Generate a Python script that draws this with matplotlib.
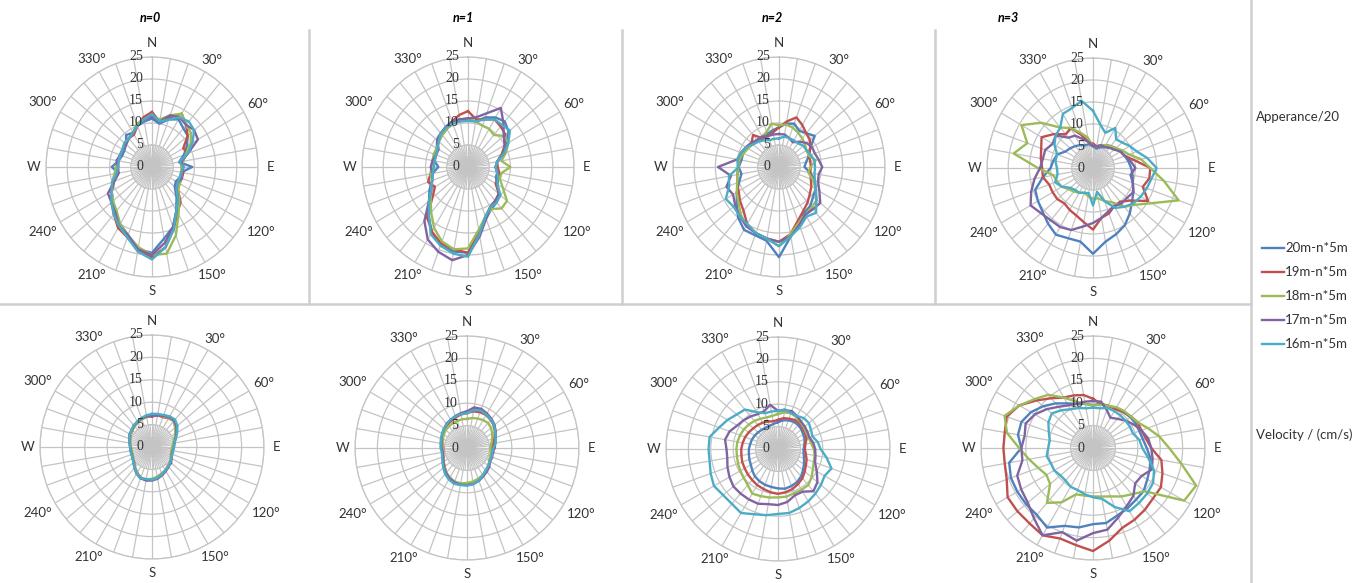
import numpy as np
import matplotlib
matplotlib.use("Agg")
import matplotlib.pyplot as plt
from matplotlib.lines import Line2D

W, H = 1371, 583

# ---------------- data ----------------
angles_deg = list(range(0, 360, 10))
series_names = ["20m-n*5m", "19m-n*5m", "18m-n*5m", "17m-n*5m", "16m-n*5m"]
series_colors = ["#4F81BD", "#C0504D", "#9BBB59", "#8064A2", "#4BACC6"]
panel_titles = ["n=0", "n=1", "n=2", "n=3"]
row_labels = ["Apperance/20", "Velocity / (cm/s)"]
dir_labels = {0: "N", 30: "30°", 60: "60°", 90: "E", 120: "120°", 150: "150°",
              180: "S", 210: "210°", 240: "240°", 270: "W", 300: "300°", 330: "330°"}
r_ticks = [0, 5, 10, 15, 20, 25]

# Appearance/20, n=0
app_n0_20 = [11, 10, 11.5, 12.5, 11.5, 11, 9.5, 8, 6.5, 9.5, 7, 7, 6.5, 7, 9, 11.5, 14.5, 16.5, 19.5, 19, 16.5, 15, 14, 12, 11, 9.5, 8, 9.5, 8, 7.5, 7.5, 8, 9.5, 9, 10, 10.5]
app_n0_19 = [12.5, 10.5, 12, 14, 12.5, 11, 8.5, 9, 7, 7, 7.5, 7.5, 7.5, 8, 10.5, 12, 15, 18.5, 20.5, 19, 17, 16, 14, 12.5, 11, 9.5, 8.5, 8, 8, 8, 8, 8, 8.5, 8.5, 10, 11.5]
app_n0_18 = [11.5, 11, 12.5, 14, 12.5, 12, 10.5, 8.5, 7.5, 7, 7, 7.5, 7.5, 8, 10, 12.5, 16.5, 20, 20, 18.5, 16.5, 15, 13, 12, 11, 10, 9, 8.5, 8, 8, 8, 8.5, 8.5, 9, 10.5, 11]
app_n0_17 = [11.5, 10.5, 12.5, 13, 12.5, 13, 12.5, 9, 7, 7.5, 7, 7.5, 7, 7.5, 9.5, 11.5, 14.5, 17.5, 20, 19, 16.5, 15.5, 13.5, 12.5, 12, 9.5, 8, 8, 8.5, 8, 8, 8, 8.5, 9, 10, 11]
app_n0_16 = [12, 10.5, 11.5, 13, 13.5, 13, 11, 9, 6.5, 7.5, 7, 7, 7, 7.5, 9.5, 11.5, 15, 18.5, 21, 19.5, 17, 15.5, 14, 12.5, 11, 10, 8.5, 8, 8, 8, 8, 8.5, 8.5, 9, 10, 11]

# Appearance/20, n=1
app_n1_20 = [11, 10.5, 12, 13, 13.5, 12.5, 10.5, 8.5, 7, 6.5, 7, 7, 8, 9.5, 10.5, 11, 12.5, 15, 19.5, 19.5, 19, 17, 14.5, 12, 10.5, 9, 8.5, 7, 8, 8.5, 8.5, 9.5, 10, 10.5, 11, 11]
app_n1_19 = [12.7, 11, 11.5, 12.5, 12, 11.5, 10, 8.5, 7, 7, 7.5, 7.5, 7.5, 9.5, 10, 10.5, 12, 15, 19.5, 19, 18.5, 17, 15, 11, 9, 10, 9, 8.5, 8, 8, 8.5, 9, 9.5, 10, 11, 12]
app_n1_18 = [11, 10.5, 10, 10, 9.5, 11, 11, 9.5, 8, 10, 8, 8, 9.5, 12, 12.3, 11, 12, 14.5, 18.5, 19, 18, 16, 13.5, 11.5, 10, 9, 9, 8.5, 8.5, 8.6, 8.5, 9, 9.5, 10, 10.5, 11]
app_n1_17 = [11, 11.5, 13, 15.5, 13, 11, 10, 9, 7, 6.5, 7, 7.5, 8, 9.5, 10, 10.5, 12.5, 16, 20, 21.5, 20.5, 19, 16, 12, 10, 9, 8.5, 8.8, 8.5, 8, 8, 9.5, 10, 10.5, 11, 11]
app_n1_16 = [10.5, 10.5, 11.5, 12.5, 12.5, 12.9, 11, 9, 7, 6.5, 7, 7.5, 8, 10, 10.5, 10.5, 12, 15.5, 20.4, 20, 19, 17.6, 14.3, 12, 10, 9, 8.5, 8, 8, 8, 8.3, 9, 10, 10.3, 10.5, 10.5]

# Appearance/20, n=2
app_n2_20 = [9, 10, 10.5, 9.5, 10, 11, 8.5, 7.5, 6.5, 6, 7.5, 9, 10, 10.5, 11.5, 12, 14, 16, 20.5, 17, 16.5, 16.5, 15, 13, 11.5, 10, 9, 9.5, 9, 9, 8.5, 8.5, 8, 7.5, 8, 8.5]
app_n2_19 = [9, 10.5, 12, 11, 10, 9.5, 8.5, 7.5, 7.5, 7.5, 7.5, 8, 8.8, 9.5, 10.5, 11.5, 13, 15.5, 17, 16.5, 16, 15, 13, 12, 11, 10.5, 10, 9.5, 9.5, 9.5, 9, 8.5, 9.5, 7.5, 7.5, 8]
app_n2_18 = [9.5, 9.8, 9.5, 9, 8.5, 8, 7.5, 7.5, 8.8, 7.5, 7, 8.5, 10, 11.6, 12, 12.5, 13.5, 15.5, 18, 16.5, 16, 15.5, 14, 12.5, 11.5, 10.5, 10, 9.5, 9.5, 9, 8.5, 8, 8, 8, 8.5, 10]
app_n2_17 = [7.5, 7.5, 7, 6.5, 7.5, 8.5, 9, 9, 9.5, 10.2, 9.5, 9.8, 11, 12.7, 12.5, 12.5, 14, 16, 17, 16.5, 16, 15.5, 14.5, 13.5, 12.5, 13.2, 11.5, 14.4, 10, 9.5, 9, 8.5, 8, 8, 7.5, 7.5]
app_n2_16 = [6.5, 7, 7, 7, 7, 7.5, 7.5, 8, 8.5, 8.5, 8.5, 9, 10, 11.5, 13.6, 13, 14.5, 16, 18, 16.5, 16, 15, 14.5, 14, 14.5, 12.5, 12, 9.5, 10, 9.5, 9, 8, 7.5, 7, 6.5, 6.5]

# Appearance/20, n=3
app_n3_20 = [5, 4.5, 5, 5.5, 6, 7, 7.5, 8, 8.5, 9, 9.5, 10, 11, 12, 13.5, 15, 16, 17, 19.5, 17, 17, 17.5, 16.5, 15.5, 15, 14.5, 12, 10, 9.5, 9, 7.5, 7, 6.5, 6, 5.5, 5.5]
app_n3_19 = [5.5, 5, 5.5, 6, 6.5, 7, 7.5, 8, 10, 13.5, 13.5, 12.5, 15, 11.5, 10, 10, 11, 11.5, 14, 12.5, 11.5, 11, 10.5, 11, 11, 11, 12, 12, 12.5, 13, 14, 12, 10, 10.5, 8, 6]
app_n3_18 = [5, 5, 5.5, 6, 6.5, 7, 8, 9, 11.5, 13.5, 17, 21.5, 16, 13, 11.5, 9, 8, 7, 7, 6.5, 6, 6.5, 7, 7.5, 8.5, 9, 9.5, 13, 19, 16.5, 19.5, 16, 12, 10.5, 8.5, 7]
app_n3_17 = [5, 5, 5.5, 5.5, 6, 6.5, 7.5, 8, 9, 10, 9, 10, 11, 10.5, 10.5, 10, 10.5, 11.5, 12.5, 13.5, 15, 15.5, 15.5, 16, 17, 15.5, 14, 12.5, 12, 12, 11, 11.5, 9, 8.5, 7, 6]
app_n3_16 = [13, 10, 8.5, 10.5, 8.5, 9, 10, 11, 13, 15, 14, 13.5, 13, 12.5, 11.5, 10.5, 8, 5.5, 8.5, 5.8, 6, 6.5, 6.5, 7, 8.5, 9.5, 8.5, 8.5, 9, 9, 10.5, 11.5, 12, 14.2, 14.5, 15.5]

# Velocity (cm/s), n=0
vel_n0_20 = [7.2, 7.3, 7.5, 7.8, 7.8, 7, 6.2, 5.5, 5, 4.8, 4.6, 4.7, 5, 5.3, 5.7, 6, 6.5, 7, 7.3, 7.4, 7.5, 6.8, 6, 5.3, 5, 4.8, 4.8, 4.8, 5, 5.3, 5.6, 5.8, 6.2, 6.5, 6.8, 7]
vel_n0_19 = [6.8, 7.2, 7.1, 7.4, 7.6, 6.8, 6.3, 5.4, 4.9, 4.6, 4.7, 4.5, 4.9, 5.6, 5.5, 6.1, 6.3, 6.8, 7.2, 7.5, 7.3, 6.6, 5.9, 5.2, 4.9, 4.7, 4.7, 4.7, 5, 5.2, 5.5, 5.7, 6.4, 6.3, 6.6, 6.9]
vel_n0_18 = [7, 7.1, 7.3, 7.5, 7.5, 6.8, 6, 5.3, 4.8, 4.5, 4.4, 4.6, 4.8, 5.2, 5.6, 5.9, 6.4, 6.8, 7.1, 7.3, 7.3, 6.7, 5.9, 5.3, 4.8, 4.6, 4.6, 4.7, 4.9, 5.2, 5.5, 5.7, 6, 6.3, 6.6, 6.8]
vel_n0_17 = [7, 7.1, 7.4, 7.7, 7.7, 7.1, 6.3, 5.6, 5.1, 4.9, 4.7, 4.7, 5.1, 5.4, 5.8, 6.2, 6.7, 7.2, 7.5, 7.6, 7.4, 6.9, 6.1, 5.4, 5, 4.8, 4.8, 4.9, 5.1, 5.4, 5.8, 5.9, 6.2, 6.5, 6.8, 6.9]
vel_n0_16 = [7.4, 7.5, 7.6, 7.9, 8, 7.4, 6.5, 5.7, 5.1, 4.9, 4.8, 4.8, 5, 5.3, 5.7, 6, 6.5, 7, 7.3, 7.3, 7.4, 6.8, 6.1, 5.4, 5, 4.9, 4.9, 4.9, 5.1, 5.4, 5.7, 6, 6.3, 6.6, 6.9, 7.2]

# Velocity (cm/s), n=1
vel_n1_20 = [8, 8.8, 9, 8.8, 8.4, 8, 7.3, 6.7, 6.3, 5.8, 5.6, 5.7, 5.8, 6.2, 6.5, 7, 7.5, 8, 8.2, 8.3, 8.4, 8, 7.5, 6.8, 6.2, 5.8, 5.6, 5.5, 5.7, 6, 6.3, 6.6, 7, 7.2, 7.5, 7.8]
vel_n1_19 = [7.8, 8.3, 8.5, 8.5, 8.2, 7.8, 7.2, 6.5, 6, 5.3, 6, 5.5, 5.8, 6.3, 6.7, 7.2, 7.5, 8, 8, 8.2, 8, 7.8, 7.2, 6.5, 6, 5.6, 5.4, 5.3, 5.5, 5.8, 6.2, 6.5, 6.8, 7, 7.3, 7.6]
vel_n1_18 = [6.5, 6.8, 7, 7.2, 7.3, 7, 6.5, 6, 5.5, 5.2, 5.4, 5.5, 5.8, 6.2, 6.6, 7, 7.3, 7.6, 7.8, 8, 8, 7.6, 7.2, 6.6, 6.1, 5.7, 5.5, 5.4, 5.5, 5.7, 6, 6.2, 6.3, 6.4, 6.4, 6.5]
vel_n1_17 = [8.2, 9.2, 9.3, 8.9, 8.5, 8, 7.4, 6.8, 6.4, 6.2, 5.8, 6, 6, 6.5, 6.9, 7.3, 7.8, 8.2, 8.3, 8.3, 8.2, 7.8, 7.3, 6.7, 6.1, 5.7, 5.5, 5.7, 5.8, 6.1, 6.4, 6.7, 7.1, 7.3, 7.6, 7.9]
vel_n1_16 = [7.8, 8.6, 8.9, 8.6, 8.3, 7.9, 7.3, 6.8, 6.5, 5.9, 5.7, 5.8, 5.9, 6.2, 6.6, 7.1, 7.7, 8.2, 8.4, 8.4, 8.5, 8.1, 7.6, 6.9, 6.3, 5.9, 5.7, 5.9, 6, 6.2, 6.4, 6.7, 7, 7.3, 7.5, 7.7]

# Velocity (cm/s), n=2
vel_n2_20 = [6, 6.5, 6.8, 7, 7, 6.8, 6.5, 6.3, 6, 5.7, 5.8, 6.2, 6.7, 7.3, 8, 8.5, 8.8, 9, 8.8, 8.6, 8.5, 8.3, 8, 7.5, 7, 6.8, 6.6, 6.5, 6.3, 6.2, 6, 5.8, 5.6, 5.5, 5.5, 5.7]
vel_n2_19 = [6.5, 7, 7.2, 7.5, 7.5, 7.2, 7, 6.8, 6.2, 6, 6.3, 6.8, 7.2, 7.8, 8.5, 9, 9.5, 9.8, 10, 9.8, 9.5, 9.3, 9, 8.8, 8.6, 8.5, 8.3, 8.2, 8, 7.8, 7.5, 7.2, 7, 6.8, 6.5, 6.3]
vel_n2_18 = [7.8, 8.3, 8.5, 8.2, 7.8, 7.5, 7.3, 7.3, 7.5, 8, 8.3, 8.5, 9, 9.8, 10.5, 10.5, 10.5, 10.8, 10.8, 11, 11.2, 11.5, 10.5, 10, 9.7, 9.5, 9.3, 9.3, 9.2, 9, 8.8, 8.5, 8.2, 7.8, 7.5, 7.5]
vel_n2_17 = [8.5, 8.8, 9, 8.5, 8, 7.8, 7.6, 7.5, 8, 8.3, 8.5, 8.8, 10, 11.5, 12.3, 11, 11, 12, 12.5, 12.5, 13, 13, 13, 13, 12.5, 12, 11.5, 11.5, 12, 11.5, 10.5, 10, 9.5, 9, 9, 10]
vel_n2_16 = [8.5, 9, 8.5, 8.5, 9, 9, 8.5, 8.2, 9, 9.5, 11, 12.7, 12, 12.5, 13, 13.5, 14, 14.5, 14.5, 15, 15.5, 16.5, 16, 16, 16.5, 16, 15.5, 15.5, 15.5, 14, 13, 12, 11.5, 9.5, 8.5, 8.5]

# Velocity (cm/s), n=3
vel_n3_20 = [9.5, 10, 10, 10.3, 10.5, 10.8, 11, 11, 11.3, 12, 13, 13.5, 14, 14.8, 15, 15.5, 16, 17, 17, 18, 18.5, 20.5, 19.5, 19.5, 19.5, 19.5, 19, 16, 17, 17, 16, 14.5, 13, 11.5, 10.5, 10]
vel_n3_19 = [11, 10, 10, 10, 10.5, 11, 11.5, 11.5, 12, 13, 15.5, 16.5, 17.5, 17.5, 18, 18.5, 19, 21, 23, 22, 21.5, 22.5, 22, 22, 22, 20.5, 20, 20, 20, 20.5, 19, 16.5, 14.5, 13, 12.5, 12]
vel_n3_18 = [9.5, 9.8, 10, 10.5, 10.8, 11, 11.5, 13, 15, 17, 20, 24.5, 23.5, 15, 13.5, 12.5, 11.5, 11, 10.8, 10.8, 11, 14, 16, 12.5, 12, 13, 14.5, 16.5, 19.5, 21, 19, 17, 15.5, 13, 11, 10]
vel_n3_17 = [10.5, 10.5, 9, 7.8, 8.5, 9.5, 10.5, 11.5, 12.5, 13, 13.5, 14, 12.5, 12.3, 14, 15, 16.5, 18.5, 19, 21, 20, 22.5, 20.5, 19, 18.5, 18, 16, 16, 15.5, 16, 15, 13.5, 12, 11, 10.5, 10.5]
vel_n3_16 = [9, 9, 9.5, 9.5, 9.5, 9.5, 9.5, 9.5, 10.5, 11, 12.5, 14.5, 15.5, 15.8, 16, 16.3, 14, 11.5, 11, 10.5, 10, 10, 9.5, 9.5, 10, 10, 10.5, 10, 9.8, 10.5, 11.5, 12, 11, 10, 9.5, 9]

appearance = [
    [app_n0_20, app_n0_19, app_n0_18, app_n0_17, app_n0_16],
    [app_n1_20, app_n1_19, app_n1_18, app_n1_17, app_n1_16],
    [app_n2_20, app_n2_19, app_n2_18, app_n2_17, app_n2_16],
    [app_n3_20, app_n3_19, app_n3_18, app_n3_17, app_n3_16],
]
velocity = [
    [vel_n0_20, vel_n0_19, vel_n0_18, vel_n0_17, vel_n0_16],
    [vel_n1_20, vel_n1_19, vel_n1_18, vel_n1_17, vel_n1_16],
    [vel_n2_20, vel_n2_19, vel_n2_18, vel_n2_17, vel_n2_16],
    [vel_n3_20, vel_n3_19, vel_n3_18, vel_n3_17, vel_n3_16],
]

# ---------------- layout ----------------
fig = plt.figure(figsize=(W / 100, H / 100), dpi=100)
fig.patch.set_facecolor("white")

LABEL_FONT = ["Lato", "DejaVu Sans"]
NUM_FONT = ["Liberation Serif", "DejaVu Serif"]
TXT = "#333333"
GRID = "#c4c4c4"

top_centers = [(152, 167), (468, 167), (779, 167), (1093, 168)]
bot_centers = [(152, 447), (467, 448), (778, 449), (1093, 448)]
top_r = (106, 110)
bot_r = (112, 112)

theta = np.deg2rad(angles_deg)
theta_closed = np.append(theta, theta[0])


def label_width(s):
    return {1: 9, 3: 20, 4: 27}.get(len(s), 8 * len(s))


def make_panel(cx, cy, rx, ry, data):
    rect = [(cx - rx) / W, 1 - (cy + ry) / H, 2 * rx / W, 2 * ry / H]
    ax = fig.add_axes(rect, projection="polar")
    ax.set_theta_zero_location("N")
    ax.set_theta_direction(-1)
    ax.set_ylim(0, 25)
    ax.set_aspect("auto")
    ax.set_xticks(theta)
    ax.set_xticklabels([])
    ax.set_yticks(r_ticks[1:])
    ax.set_yticklabels([])
    ax.grid(True, color=GRID, lw=0.9)
    ax.spines["polar"].set_color(GRID)
    ax.spines["polar"].set_linewidth(0.9)
    ax.tick_params(length=0)
    # extra fine spokes near the centre
    for a in angles_deg:
        t = np.deg2rad(a + 5)
        ax.plot([t, t], [0, 5], color=GRID, lw=0.8, zorder=1)
    # data
    for vals, col in zip(data, series_colors):
        v = np.append(vals, vals[0])
        ax.plot(theta_closed, v, color=col, lw=1.7, zorder=3, clip_on=False)
    # direction labels
    for a, s in dir_labels.items():
        ar = np.deg2rad(a)
        w = label_width(s)
        off = 8 + max(abs(np.sin(ar)) * w / 2, abs(np.cos(ar)) * 6)
        ax.annotate(s, xy=(ar, 25), xytext=(np.sin(ar) * off, np.cos(ar) * off),
                    textcoords="offset pixels", ha="center", va="center",
                    fontsize=9.5, color=TXT, family=LABEL_FONT,
                    annotation_clip=False)
    # radial labels
    for r in r_ticks:
        ax.annotate(str(r), xy=(0, r), xytext=(-9, 0), textcoords="offset pixels",
                    ha="right", va="center", fontsize=10, color=TXT,
                    family=NUM_FONT, annotation_clip=False, zorder=4)
    return ax


for i in range(4):
    cx, cy = top_centers[i]
    make_panel(cx, cy, top_r[0], top_r[1], appearance[i])
    cx, cy = bot_centers[i]
    make_panel(cx, cy, bot_r[0], bot_r[1], velocity[i])

# titles
title_pos = [(150, 18), (463, 18), (772, 18), (1008, 18)]
for (x, y), t in zip(title_pos, panel_titles):
    fig.text(x / W, 1 - y / H, t, ha="center", va="center", fontsize=9,
             fontweight="bold", fontstyle="italic", color="black", family=LABEL_FONT)

# divider lines
def fline(x0, y0, x1, y1):
    fig.add_artist(Line2D([x0 / W, x1 / W], [1 - y0 / H, 1 - y1 / H],
                          transform=fig.transFigure, color="#cfcfcf", lw=1.8))

fline(309, 30, 309, 304)
fline(622, 30, 622, 304)
fline(935, 30, 935, 304)
fline(0, 304, 1251, 304)
fline(1251, 0, 1251, 583)

# row labels
fig.text(1256 / W, 1 - 117 / H, row_labels[0], ha="left", va="center",
         fontsize=9.5, color=TXT, family=LABEL_FONT)
fig.text(1256 / W, 1 - 435 / H, row_labels[1], ha="left", va="center",
         fontsize=9.5, color=TXT, family=LABEL_FONT)

# legend
leg_y = [248, 272, 296, 320, 344]
for y, name, col in zip(leg_y, series_names, series_colors):
    fig.add_artist(Line2D([1262 / W, 1284 / W], [1 - y / H, 1 - y / H],
                          transform=fig.transFigure, color=col, lw=1.7))
    fig.text(1285 / W, 1 - y / H, name, ha="left", va="center",
             fontsize=9.5, color=TXT, family=LABEL_FONT)

fig.savefig("out.png", dpi=100, facecolor="white")
